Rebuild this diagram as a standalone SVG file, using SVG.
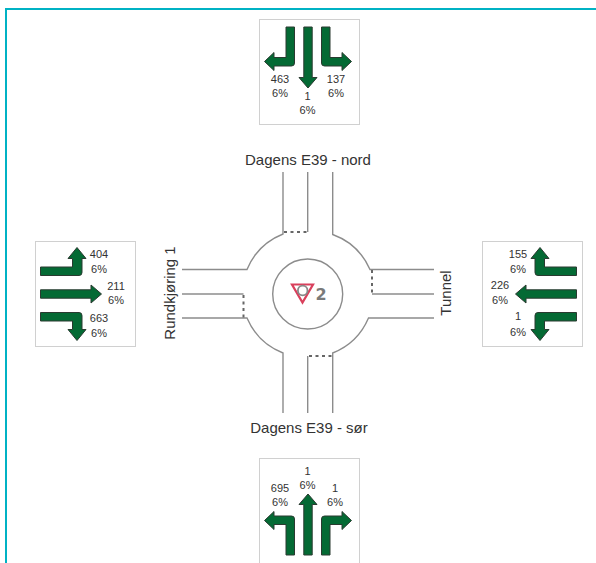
<svg xmlns="http://www.w3.org/2000/svg" xmlns:xlink="http://www.w3.org/1999/xlink" width="596" height="563" viewBox="0 0 596 563">
<style>
.road{fill:none;stroke:#8c8c8c;stroke-width:1.4}
.dash{fill:none;stroke:#666;stroke-width:2;stroke-dasharray:3 3.500}
.box{fill:#fff;stroke:#d0d0d0;stroke-width:1}
.arrow{fill:#046a34;stroke:#2a3a30;stroke-width:1}
.t{font-family:"Liberation Sans",Arial,sans-serif;font-size:11px;fill:#333;text-anchor:middle}
.lbl{font-family:"Liberation Sans",Arial,sans-serif;font-size:15px;fill:#333;text-anchor:middle}
</style>
<defs>
<path id="s" class="arrow" d="M-4.200,-44.500H4.200V6H9L0,16.500L-9,6H-4.200Z"/>
<path id="tv" class="arrow" d="M-22,-44.500H-13.500V-8.500Q-13.500,-5.500 -16.500,-5.500H-34V-1L-43.500,-10L-34,-19V-14H-22Z"/>
<path id="th" class="arrow" d="M-44.500,18.500H-6Q-3,18.500 -3,21.500V35.500H1L-8,46.500L-17,35.500H-12.500V27H-44.500Z"/>
</defs>
<rect width="596" height="563" fill="#fff"/>
<path d="M6,563V9H596" fill="none" stroke="#00b2c4" stroke-width="2"/>
<g id="connectors">
<path class="road" d="M283,172V234A65,65 0 0 0 247,269.500H182"/>
<path class="road" d="M307.700,172V232"/>
<path class="road" d="M332.700,172V234.500A65,65 0 0 1 370,269.500H434"/>
<path class="road" d="M182,294H243.500"/>
<path class="road" d="M372,294H434"/>
<path class="road" d="M182,318H247A65,65 0 0 0 283,353V413"/>
<path class="road" d="M434,318H368.500A65,65 0 0 1 332.700,353V413"/>
<path class="road" d="M307.700,356V413"/>
<path class="dash" d="M284,232H307"/>
<path class="dash" d="M243.500,295V318"/>
<path class="dash" d="M372,270V293"/>
<path class="dash" d="M309,356H332"/>
</g>
<g id="roundabout">
<circle cx="307.700" cy="294" r="35" fill="none" stroke="#8c8c8c" stroke-width="1.400"/>
<path d="M292,284.500H313L302.500,302.500Z" fill="#fff" stroke="#d9405c" stroke-width="2.200"/>
<circle cx="302.700" cy="290.500" r="4.800" fill="#fff" stroke="#888" stroke-width="1.800"/>
<text x="321" y="300" font-family="'DejaVu Sans',sans-serif" font-weight="bold" font-size="16" fill="#7a7a7a" text-anchor="middle">2</text>
</g>
<g id="north">
<rect class="box" x="259.500" y="19.500" width="100" height="105"/>
<g transform="translate(308,71.500)"><use xlink:href="#tv" href="#tv"/><use xlink:href="#s" href="#s"/><use xlink:href="#tv" href="#tv" transform="scale(-1,1)"/></g>
<text class="t" x="280" y="83">463</text><text class="t" x="280" y="97">6%</text>
<text class="t" x="307.500" y="100">1</text><text class="t" x="307.500" y="114">6%</text>
<text class="t" x="336" y="83">137</text><text class="t" x="336" y="97">6%</text>
<text class="lbl" x="308" y="165">Dagens E39 - nord</text>
</g>
<g id="west">
<rect class="box" x="35.500" y="241.500" width="100" height="105"/>
<g transform="translate(85,294)"><use xlink:href="#th" href="#th"/><use xlink:href="#s" href="#s" transform="rotate(-90)"/><use xlink:href="#th" href="#th" transform="scale(1,-1)"/></g>
<text class="t" x="99" y="258">404</text><text class="t" x="99" y="273">6%</text>
<text class="t" x="116" y="290">211</text><text class="t" x="116" y="304">6%</text>
<text class="t" x="99" y="322">663</text><text class="t" x="99" y="337">6%</text>
<text class="lbl" transform="translate(175,293) rotate(-90)">Rundkjøring 1</text>
</g>
<g id="east">
<rect class="box" x="482.500" y="241.500" width="100" height="105"/>
<g transform="translate(532,294)"><use xlink:href="#th" href="#th" transform="scale(-1,-1)"/><use xlink:href="#s" href="#s" transform="rotate(90)"/><use xlink:href="#th" href="#th" transform="scale(-1,1)"/></g>
<text class="t" x="518" y="258">155</text><text class="t" x="518" y="273">6%</text>
<text class="t" x="500" y="289">226</text><text class="t" x="500" y="304">6%</text>
<text class="t" x="518" y="320">1</text><text class="t" x="518" y="336">6%</text>
<text class="lbl" transform="translate(451,293) rotate(-90)">Tunnel</text>
</g>
<g id="south">
<rect class="box" x="259.500" y="458.500" width="100" height="105"/>
<g transform="translate(308,510.500)"><use xlink:href="#tv" href="#tv" transform="scale(1,-1)"/><use xlink:href="#s" href="#s" transform="rotate(180)"/><use xlink:href="#tv" href="#tv" transform="scale(-1,-1)"/></g>
<text class="t" x="307.500" y="475">1</text><text class="t" x="307.500" y="489">6%</text>
<text class="t" x="280" y="492">695</text><text class="t" x="280" y="506">6%</text>
<text class="t" x="335" y="492">1</text><text class="t" x="335" y="506">6%</text>
<text class="lbl" x="309" y="433">Dagens E39 - sør</text>
</g>
</svg>
